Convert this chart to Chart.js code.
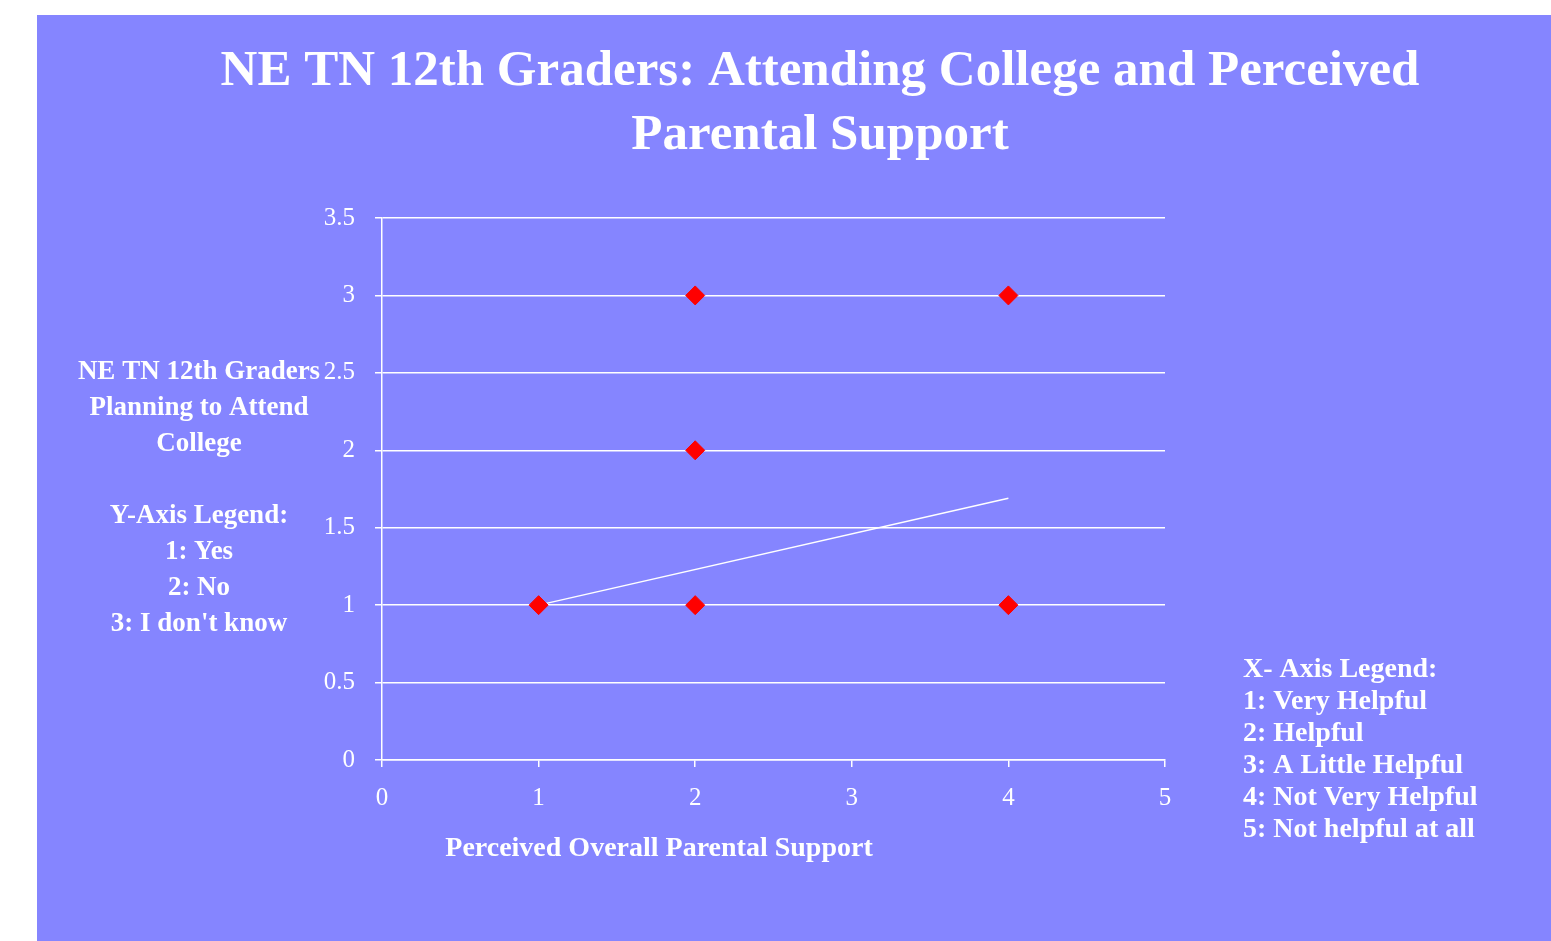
<!DOCTYPE html>
<html>
<head>
<meta charset="utf-8">
<script src="https://cdn.jsdelivr.net/npm/chart.js@4.4.1/dist/chart.umd.min.js"></script>
<style>
html,body{margin:0;padding:0;background:#ffffff;}
#wrap{position:absolute;left:0;top:0;width:1551px;height:941px;}
</style>
</head>
<body>
<div id="wrap"><canvas id="c" width="1551" height="941"></canvas></div>
<script>
// Data
const scatterX = [1, 2, 2, 2, 4, 4];
const scatterY = [1, 1, 2, 3, 3, 1];
const trendX = [1, 4];
const trendY = [1, 1.69];
const xTicks = [0, 1, 2, 3, 4, 5];
const yTicks = [0, 0.5, 1, 1.5, 2, 2.5, 3, 3.5];
const titleLines = ['NE TN 12th Graders: Attending College and Perceived', 'Parental Support'];
const yTitleLines = ['NE TN 12th Graders', 'Planning to Attend', 'College', '', 'Y-Axis Legend:', '1: Yes', '2: No', "3: I don't know"];
const xTitle = 'Perceived Overall Parental Support';
const xLegendLines = ['X- Axis Legend:', '1: Very Helpful', '2: Helpful', '3: A Little Helpful', '4: Not Very Helpful', '5: Not helpful at all'];

const BG = '#8585FF';
const SERIF = '"Liberation Serif", "DejaVu Serif", serif';

const decor = {
  id: 'decor',
  beforeDraw(chart) {
    const ctx = chart.ctx;
    ctx.save();
    ctx.fillStyle = BG;
    ctx.fillRect(37, 15, chart.width - 37, chart.height - 15);
    ctx.restore();
  },
  afterDraw(chart) {
    const ctx = chart.ctx;
    ctx.save();
    ctx.fillStyle = '#ffffff';
    ctx.textBaseline = 'middle';
    // Title
    ctx.textAlign = 'center';
    ctx.font = 'bold 51px ' + SERIF;
    ctx.fillText(titleLines[0], 820, 72);
    ctx.fillText(titleLines[1], 820, 136);
    // Y title block
    ctx.font = 'bold 27px ' + SERIF;
    yTitleLines.forEach((t, i) => { if (t) ctx.fillText(t, 199, 372 + i * 36); });
    // X title
    ctx.font = 'bold 28px ' + SERIF;
    ctx.fillText(xTitle, 659, 849);
    // X legend
    ctx.textAlign = 'left';
    ctx.font = 'bold 28px ' + SERIF;
    xLegendLines.forEach((t, i) => ctx.fillText(t, 1243, 670 + i * 32));
    ctx.restore();
  }
};

new Chart(document.getElementById('c'), {
  type: 'scatter',
  data: {
    datasets: [
      {
        label: 'Responses',
        data: scatterX.map((x, i) => ({x: x, y: scatterY[i]})),
        pointStyle: 'rectRot',
        pointRadius: 9.5,
        pointHoverRadius: 9.5,
        backgroundColor: '#FF0000',
        borderColor: '#FF0000',
        borderWidth: 1,
        order: 1
      },
      {
        label: 'Trend',
        type: 'line',
        data: trendX.map((x, i) => ({x: x, y: trendY[i]})),
        borderColor: '#ffffff',
        borderWidth: 1.5,
        pointRadius: 0,
        fill: false,
        order: 2
      }
    ]
  },
  options: {
    responsive: false,
    animation: false,
    events: [],
    layout: {padding: {left: 282, right: 386, top: 218, bottom: 131}},
    plugins: {legend: {display: false}, title: {display: false}, tooltip: {enabled: false}},
    scales: {
      x: {
        type: 'linear',
        min: 0, max: 5,
        afterFit(s) { s.height = 50; },
        afterBuildTicks(s) { s.ticks = xTicks.map(v => ({value: v})); },
        grid: {drawOnChartArea: false, color: '#ffffff', tickLength: 7, lineWidth: 1.5},
        border: {color: '#ffffff', width: 1.5},
        ticks: {color: '#ffffff', font: {family: SERIF, size: 25}, padding: 16, maxRotation: 0,
                callback: v => String(v)}
      },
      y: {
        type: 'linear',
        min: 0, max: 3.5,
        afterFit(s) { s.width = 100; },
        afterBuildTicks(s) { s.ticks = yTicks.map(v => ({value: v})); },
        grid: {color: '#ffffff', tickLength: 7, lineWidth: 1.5},
        border: {color: '#ffffff', width: 1.5},
        ticks: {color: '#ffffff', font: {family: SERIF, size: 25}, padding: 20,
                callback: v => String(v)}
      }
    }
  },
  plugins: [decor]
});
</script>
</body>
</html>
